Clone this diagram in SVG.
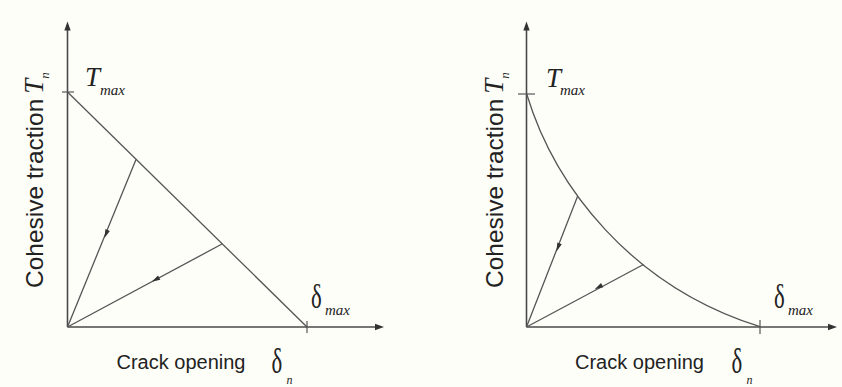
<svg xmlns="http://www.w3.org/2000/svg" width="842" height="387" viewBox="0 0 842 387">
  <style>
    .axis { stroke: #4a4a4a; stroke-width: 1.6; fill: none; }
    .curve { stroke: #555; stroke-width: 1.3; fill: none; }
    .tick { stroke: #555; stroke-width: 1.2; }
    .lbl { font-family: "Liberation Sans", Arial, sans-serif; font-size: 24.5px; fill: #222; }
    .lbl2 { font-family: "Liberation Sans", Arial, sans-serif; font-size: 20px; fill: #222; }
    .sym { font-family: "Liberation Serif", "Times New Roman", serif; fill: #222; }
    .it { font-style: italic; }
    .ah { fill: #333; }
  </style>
  <defs>
    <path id="axhead" d="M0,0 L-9,-3.2 L-9,3.2 Z"/>
    <path id="ah" d="M1.5,0 L-7,-2.4 L-7,2.4 Z"/>
  </defs>
  <rect width="842" height="387" fill="#fefef9"/>

  <!-- Left panel -->
  <g id="left-panel">
    <g id="left-axes">
      <line class="axis" x1="67.5" y1="327" x2="67.5" y2="30"/>
      <use href="#axhead" class="ah" transform="translate(67.5,21.5) rotate(-90)"/>
      <line class="axis" x1="67.5" y1="327" x2="376" y2="327"/>
      <use href="#axhead" class="ah" transform="translate(384,327)"/>
      <line class="tick" x1="62" y1="92" x2="74" y2="92"/>
      <line class="tick" x1="307" y1="321" x2="307" y2="333"/>
    </g>
    <g id="left-connectors">
      <line class="curve" x1="67.5" y1="92" x2="307" y2="327"/>
      <line class="curve" x1="136" y1="159.5" x2="67.5" y2="327"/>
      <line class="curve" x1="222" y1="244" x2="67.5" y2="327"/>
      <use href="#ah" class="ah" transform="translate(105,236.5) rotate(112.2)"/>
      <use href="#ah" class="ah" transform="translate(153,281) rotate(151.8)"/>
    </g>
    <g id="left-labels">
      <text class="lbl" transform="translate(43,288) rotate(-90)">Cohesive traction<tspan class="sym it" dx="5" font-size="27">T</tspan><tspan class="sym it" font-size="13" dy="6">n</tspan></text>
      <text class="sym it" x="85" y="86" font-size="27">T</text>
      <text class="sym it" x="100" y="95" font-size="15">max</text>
      <text class="sym" transform="translate(311,308) scale(0.95,1.4)" font-size="24">δ</text>
      <text class="sym it" x="325" y="315" font-size="15">max</text>
      <text class="lbl2" x="116.5" y="369">Crack opening</text>
      <text class="sym" transform="translate(271.5,373) scale(0.95,1.45)" font-size="24">δ</text>
      <text class="sym it" x="286.5" y="384" font-size="12">n</text>
    </g>
  </g>

  <!-- Right panel -->
  <g id="right-panel">
    <g id="right-axes">
      <line class="axis" x1="526.5" y1="327" x2="526.5" y2="30"/>
      <use href="#axhead" class="ah" transform="translate(526.5,21.5) rotate(-90)"/>
      <line class="axis" x1="526.5" y1="327" x2="829" y2="327"/>
      <use href="#axhead" class="ah" transform="translate(837,327)"/>
      <line class="tick" x1="518" y1="94" x2="535" y2="94"/>
      <line class="tick" x1="760" y1="320" x2="760" y2="334"/>
    </g>
    <g id="right-connectors">
      <path class="curve" d="M526.7,94 C554.7,186.7 631.7,286.7 760,326.7"/>
      <line class="curve" x1="577.5" y1="196.5" x2="526.5" y2="327"/>
      <line class="curve" x1="643.5" y1="264.5" x2="526.5" y2="327"/>
      <use href="#ah" class="ah" transform="translate(557,250) rotate(111.4)"/>
      <use href="#ah" class="ah" transform="translate(596,288.5) rotate(151.8)"/>
    </g>
    <g id="right-labels">
      <text class="lbl" transform="translate(503,288) rotate(-90)">Cohesive traction<tspan class="sym it" dx="5" font-size="27">T</tspan><tspan class="sym it" font-size="13" dy="6">n</tspan></text>
      <text class="sym it" x="546" y="87" font-size="27">T</text>
      <text class="sym it" x="560" y="95" font-size="15">max</text>
      <text class="sym" transform="translate(774,308) scale(0.95,1.4)" font-size="24">δ</text>
      <text class="sym it" x="788" y="315" font-size="15">max</text>
      <text class="lbl2" x="575" y="369">Crack opening</text>
      <text class="sym" transform="translate(731.5,373) scale(0.95,1.45)" font-size="24">δ</text>
      <text class="sym it" x="746.5" y="384" font-size="12">n</text>
    </g>
  </g>
</svg>
